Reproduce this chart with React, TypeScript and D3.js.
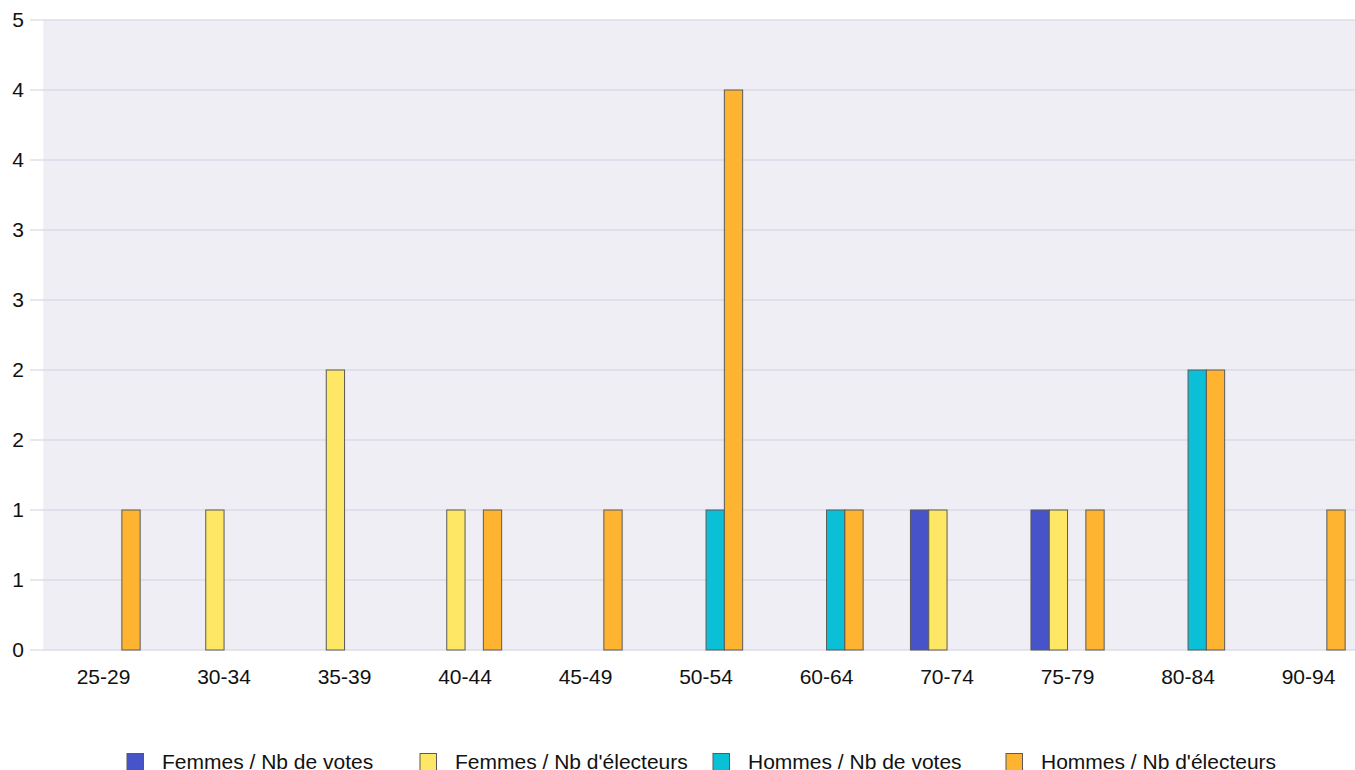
import React from "react";
import * as d3 from "d3";

const categories = ["25-29", "30-34", "35-39", "40-44", "45-49", "50-54", "60-64", "70-74", "75-79", "80-84", "90-94"];
const seriesNames = ["Femmes / Nb de votes", "Femmes / Nb d'électeurs", "Hommes / Nb de votes", "Hommes / Nb d'électeurs"];
const femmesVotes = [0, 0, 0, 0, 0, 0, 0, 1, 1, 0, 0];
const femmesElecteurs = [0, 1, 2, 1, 0, 0, 0, 1, 1, 0, 0];
const hommesVotes = [0, 0, 0, 0, 0, 1, 1, 0, 0, 2, 0];
const hommesElecteurs = [1, 0, 0, 1, 1, 4, 1, 0, 1, 2, 1];
const seriesColors = ["#4653c9", "#ffe766", "#0abfd6", "#ffb431"];
const yTickValues = [0, 0.5, 1, 1.5, 2, 2.5, 3, 3.5, 4, 4.5];

const W = 1355;
const H = 770;
const plotLeft = 43.3;
const plotRight = 43.3 + 1325.5;
const plotTop = 20;
const plotBottom = 650;
const FONT = "'Liberation Sans', Arial, sans-serif";

export default function App() {
  const seriesValues = [femmesVotes, femmesElecteurs, hommesVotes, hommesElecteurs];
  const x = d3.scaleBand<string>().domain(categories).range([plotLeft, plotRight]).padding(0);
  const groupW = 73.2;
  const inner = d3.scaleBand<number>().domain([0, 1, 2, 3]).range([0, groupW]).padding(0);
  const y = d3.scaleLinear().domain([0, 4.5]).range([plotBottom, plotTop]);

  const legendX = [127, 420, 713, 1006];

  return (
    <div style={{ position: "absolute", left: 0, top: 0, width: W, height: H, overflow: "hidden", background: "#fff" }}>
      <svg width={W} height={H} style={{ display: "block" }} fontFamily={FONT}>
        <rect x={plotLeft} y={plotTop} width={plotRight - plotLeft} height={plotBottom - plotTop} fill="#efeef4" />
        {yTickValues.map((v) => (
          <g key={v}>
            <line x1={30} x2={plotRight} y1={y(v)} y2={y(v)} stroke="#d2d0e2" strokeWidth={1.2} />
            <text x={24} y={y(v)} dy="0.35em" textAnchor="end" fontSize={21} fill="#111">
              {Math.round(v)}
            </text>
          </g>
        ))}
        {categories.map((c, ci) => {
          const x0 = (x(c) as number) + (x.bandwidth() - groupW) / 2;
          return (
            <g key={c}>
              {seriesValues.map((vals, si) =>
                vals[ci] > 0 ? (
                  <rect
                    key={si}
                    x={x0 + (inner(si) as number)}
                    y={y(vals[ci])}
                    width={inner.bandwidth()}
                    height={y(0) - y(vals[ci])}
                    fill={seriesColors[si]}
                    stroke="#5a5a5a"
                    strokeWidth={1}
                  />
                ) : null
              )}
              <text x={(x(c) as number) + x.bandwidth() / 2} y={677} dy="0.35em" textAnchor="middle" fontSize={21} fill="#111">
                {c}
              </text>
            </g>
          );
        })}
        {seriesNames.map((name, i) => (
          <g key={name}>
            <rect x={legendX[i]} y={753.5} width={16.5} height={18} fill={seriesColors[i]} stroke="#5a5a5a" strokeWidth={1} />
            <text x={legendX[i] + 35} y={762} dy="0.35em" fontSize={21} fill="#111">
              {name}
            </text>
          </g>
        ))}
      </svg>
    </div>
  );
}
